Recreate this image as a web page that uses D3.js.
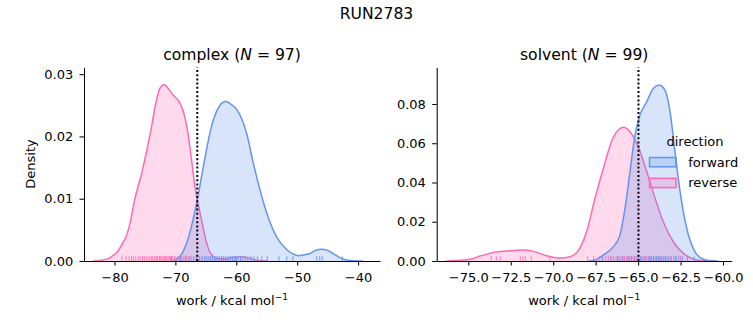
<!DOCTYPE html>
<html><head><meta charset="utf-8">
<script src="https://cdn.jsdelivr.net/npm/d3@7"></script>
<style>body{margin:0;background:#fff}svg{display:block;font-family:"DejaVu Sans",sans-serif}</style>
</head><body><svg id="c" width="753" height="325"></svg>
<script>
// ---------------- data ----------------
const suptitle = "RUN2783";
const panelNames = ["complex", "solvent"];
const panelN = [97, 99];
const directions = ["forward", "reverse"];
const dirColors = ["#6495ED", "#FF69B4"];

// KDE curves: x = work (kcal/mol), y = density
const complexFwdX = [-70.3, -69.5, -68.8, -68.1, -67.5, -66.4, -65.3, -64.2, -63.1, -62.3, -61.7, -60.9, -59.9, -58.3, -57.2, -56.1, -55.0, -53.4, -51.7, -50.6, -49.8, -48.8, -47.9, -47.0, -46.0, -45.0, -44.1, -42.9, -41.9, -40.5, -39.2];
const complexFwdY = [0, 0.0005, 0.0014, 0.0030, 0.0050, 0.0098, 0.0157, 0.0211, 0.0243, 0.0254, 0.0256, 0.0252, 0.0243, 0.0205, 0.0157, 0.0114, 0.0077, 0.0039, 0.0018, 0.0011, 0.00086, 0.0010, 0.0012, 0.0017, 0.0019, 0.0017, 0.0012, 0.0005, 0.00016, 0.00003, 0];
const complexRevX = [-83.5, -82.5, -81.2, -80.2, -79.5, -78.8, -78.1, -77.4, -76.8, -75.4, -74.0, -73.2, -72.5, -71.85, -71.03, -70.21, -69.39, -68.69, -68.03, -67.48, -66.7, -65.8, -65.0, -64.2, -63.1, -62.0, -61.0, -59.5, -58.0, -57.0, -55.8, -54.8];
const complexRevY = [0, 0.0001, 0.0003, 0.0009, 0.0015, 0.0026, 0.0039, 0.0062, 0.0093, 0.0146, 0.0211, 0.0254, 0.0278, 0.0283, 0.0275, 0.0265, 0.0256, 0.0240, 0.0211, 0.0173, 0.0114, 0.0071, 0.0034, 0.0012, 0.0004, 0.0003, 0.0005, 0.0007, 0.0005, 0.0002, 0.00003, 0];
const solventFwdX = [-67.9, -67.64, -67.05, -66.46, -66.07, -65.77, -65.48, -65.18, -64.89, -64.49, -64.1, -63.77, -63.42, -63.12, -62.83, -62.53, -62.14, -61.65, -61.16, -60.67, -60.3];
const solventFwdY = [0, 0.0002, 0.0030, 0.0073, 0.0132, 0.0268, 0.0455, 0.0642, 0.0744, 0.0812, 0.0880, 0.0897, 0.0871, 0.0761, 0.0557, 0.0353, 0.0167, 0.0047, 0.0009, 0.0001, 0];
const solventRevX = [-76.3, -75.7, -74.9, -74.3, -73.5, -72.7, -71.85, -71.15, -70.4, -69.6, -69.0, -68.42, -68.03, -67.54, -67.05, -66.56, -66.17, -65.87, -65.48, -64.99, -64.49, -64.0, -63.52, -62.93, -62.34, -61.75, -61.35, -60.9];
const solventRevY = [0, 0.0003, 0.0009, 0.0025, 0.0044, 0.0051, 0.0056, 0.0049, 0.0027, 0.0015, 0.0022, 0.0067, 0.0150, 0.0320, 0.0470, 0.0610, 0.0667, 0.0681, 0.0659, 0.0583, 0.0455, 0.0320, 0.0200, 0.0098, 0.0039, 0.0010, 0.0002, 0];

// rug (individual work values, estimated)
const complexFwdWork = [-70.6, -69.2, -68.3, -67.6, -67.0, -66.5, -66.0, -65.6, -65.2, -64.8, -64.5, -64.2, -63.9, -63.6, -63.3, -63.0, -62.7, -62.4, -62.1, -61.8, -61.5, -61.2, -60.9, -60.6, -60.3, -60.0, -59.7, -59.3, -58.9, -58.5, -58.1, -57.6, -57.1, -56.5, -55.8, -54.9, -53.0, -51.7, -50.7, -46.8, -46.3, -45.9, -42.6];
const complexRevWork = [-78.8, -78.1, -77.6, -77.2, -76.9, -76.5, -76.1, -75.8, -75.4, -75.1, -74.8, -74.5, -74.2, -73.9, -73.7, -73.4, -73.1, -72.9, -72.6, -72.4, -72.2, -72.0, -71.8, -71.6, -71.4, -71.2, -71.0, -70.8, -70.6, -70.4, -70.1, -69.9, -69.6, -69.3, -69.0, -68.7, -68.4, -68.1, -67.8, -67.4, -67.0, -66.6, -66.1, -65.6, -65.0, -64.3, -63.5, -62.4, -60.1, -59.3];
const solventFwdWork = [-67.1, -66.6, -66.2, -65.9, -65.6, -65.4, -65.2, -65.0, -64.85, -64.7, -64.55, -64.4, -64.3, -64.2, -64.1, -64.0, -63.9, -63.8, -63.7, -63.6, -63.5, -63.4, -63.3, -63.2, -63.05, -62.9, -62.75, -62.6, -62.4, -62.1, -61.7];
const solventRevWork = [-73.65, -73.35, -73.12, -71.94, -71.78, -71.64, -71.29, -70.2, -67.97, -67.62, -67.3, -67.1, -66.9, -66.75, -66.6, -66.45, -66.3, -66.2, -66.1, -66.0, -65.9, -65.8, -65.7, -65.6, -65.5, -65.4, -65.3, -65.2, -65.1, -64.95, -64.8, -64.65, -64.5, -64.3, -64.1, -63.9, -63.7, -63.4, -63.1, -62.8, -62.5];

// dotted vertical reference line (free-energy estimate)
const refLine = [-66.4, -64.98];

// axes
const xDomains = [[-85, -36.4], [-76.86, -59.49]];
const yMaxes = [0.0311, 0.0987];
const xTicks = [[-80, -70, -60, -50, -40], [-75, -72.5, -70, -67.5, -65, -62.5, -60]];
const yTicks = [[0, 0.01, 0.02, 0.03], [0, 0.02, 0.04, 0.06, 0.08]];
const xTickFormats = [".0f", ".1f"];
const yTickFormat = ".2f";

// ---------------- drawing ----------------
const svg = d3.select("#c");
const plotTop = 67.3, plotBottom = 261;
const lefts = [84, 436.7], rights = [380, 731.7];

const curves = [
  [[complexFwdX, complexFwdY], [complexRevX, complexRevY]],
  [[solventFwdX, solventFwdY], [solventRevX, solventRevY]]
];
const rugs = [[complexFwdWork, complexRevWork], [solventFwdWork, solventRevWork]];

svg.append("text").attr("x", 376.5).attr("y", 18.5).attr("text-anchor", "middle")
  .attr("font-size", 15.6).text(suptitle);

panelNames.forEach((name, i) => {
  const g = svg.append("g");
  const x = d3.scaleLinear().domain(xDomains[i]).range([lefts[i], rights[i]]);
  const y = d3.scaleLinear().domain([0, yMaxes[i]]).range([plotBottom, plotTop]);

  const area = d3.area().x(d => x(d[0])).y0(y(0)).y1(d => y(d[1])).curve(d3.curveMonotoneX);
  const line = d3.line().x(d => x(d[0])).y(d => y(d[1])).curve(d3.curveMonotoneX);

  // seaborn draws hue levels in reverse order: reverse first, forward on top
  [1, 0].forEach(k => {
    const pts = curves[i][k][0].map((v, j) => [v, curves[i][k][1][j]]);
    g.append("path").datum(pts).attr("d", area)
      .attr("fill", dirColors[k]).attr("fill-opacity", 0.25).attr("stroke", "none");
    g.append("path").datum(pts).attr("d", line)
      .attr("fill", "none").attr("stroke", dirColors[k]).attr("stroke-width", 1.5);
  });

  // rugs
  const rugH = 0.025 * (plotBottom - plotTop);
  [1, 0].forEach(k => {
    g.append("g").selectAll("line").data(rugs[i][k]).join("line")
      .attr("x1", d => x(d)).attr("x2", d => x(d))
      .attr("y1", plotBottom).attr("y2", plotBottom - rugH)
      .attr("stroke", dirColors[k]).attr("stroke-width", 1).attr("stroke-opacity", 0.85);
  });

  // dotted line
  g.append("line").attr("x1", x(refLine[i])).attr("x2", x(refLine[i]))
    .attr("y1", plotBottom).attr("y2", plotTop)
    .attr("stroke", "#000").attr("stroke-width", 2).attr("stroke-dasharray", "2,2.2");

  // axes
  const xa = d3.axisBottom(x).tickValues(xTicks[i]).tickFormat(d3.format(xTickFormats[i]))
    .tickSize(4.5).tickSizeOuter(0).tickPadding(6.8);
  const gx = g.append("g").attr("transform", `translate(0,${plotBottom})`).call(xa);
  const ya = d3.axisLeft(y).tickValues(yTicks[i]).tickFormat(d3.format(yTickFormat))
    .tickSize(4.5).tickSizeOuter(0).tickPadding(6.3);
  const gy = g.append("g").attr("transform", `translate(${lefts[i]},0)`).call(ya);
  [gx, gy].forEach(a => {
    a.attr("font-family", null).attr("font-size", 13);
    a.selectAll("text").attr("fill", "#000");
    a.selectAll("line").attr("stroke", "#000").attr("stroke-width", 1.04);
    a.select(".domain").attr("stroke", "#000").attr("stroke-width", 1.04);
  });

  // title
  const t = svg.append("text").attr("x", (lefts[i] + rights[i]) / 2).attr("y", 59.5)
    .attr("text-anchor", "middle").attr("font-size", 15.6);
  t.append("tspan").text(name + " (");
  t.append("tspan").attr("font-style", "italic").text("N");
  t.append("tspan").text(" = " + panelN[i] + ")");

  // x label
  const xl = svg.append("text").attr("x", (lefts[i] + rights[i]) / 2).attr("y", 305)
    .attr("text-anchor", "middle").attr("font-size", 13);
  xl.append("tspan").text("work / kcal mol");
  xl.append("tspan").attr("font-size", 9.1).attr("dy", -5).text("\u22121");
});

// y label
svg.append("text").attr("transform", "translate(34.5,164) rotate(-90)")
  .attr("text-anchor", "middle").attr("font-size", 13).text("Density");

// legend
svg.append("text").attr("x", 695).attr("y", 145.5).attr("text-anchor", "middle")
  .attr("font-size", 13).text("direction");
const legY = [157.5, 178.3];
const legLabY = [166.5, 187];
directions.forEach((d, k) => {
  svg.append("rect").attr("x", 649.5).attr("y", legY[k]).attr("width", 26.5).attr("height", 9.3)
    .attr("fill", dirColors[k]).attr("fill-opacity", 0.25)
    .attr("stroke", dirColors[k]).attr("stroke-width", 1.5);
  svg.append("text").attr("x", 688.3).attr("y", legLabY[k]).attr("font-size", 13).text(d);
});
</script></body></html>
